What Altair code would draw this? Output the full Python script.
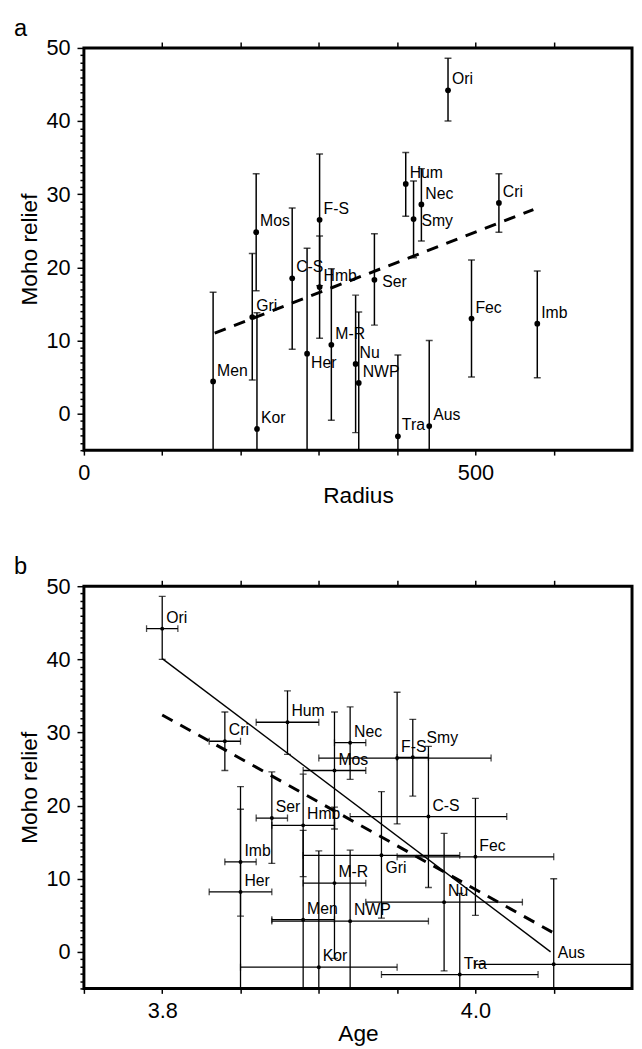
import altair as alt
import pandas as pd

FONT = "Liberation Sans"

# ---------------- data ----------------
names = ["Ori", "Hum", "Nec", "Smy", "Cri", "F-S", "Mos", "Gri", "Kor", "Men", "C-S",
         "Her", "Hmb", "M-R", "Ser", "Nu", "NWP", "Tra", "Aus", "Fec", "Imb"]
radius = [465, 411, 431, 421, 530, 301, 220, 215, 221, 165, 266,
          285, 301, 316, 371, 347, 351, 401, 441, 495, 579]
relief = [44.2, 31.4, 28.6, 26.6, 28.8, 26.5, 24.8, 13.2, -2.1, 4.4, 18.5,
          8.2, 17.3, 9.4, 18.3, 6.8, 4.2, -3.1, -1.7, 13.0, 12.3]
relief_lo = [40.0, 27.0, 23.6, 21.3, 24.8, 17.5, 16.8, 4.6, -18.0, -7.8, 8.8,
             -6.2, 10.3, -0.9, 12.1, -2.6, -5.5, -14.2, -13.4, 5.0, 4.9]
relief_hi = [48.6, 35.7, 33.5, 31.8, 32.8, 35.5, 32.8, 21.9, 13.8, 16.6, 28.1,
             22.6, 24.3, 19.8, 24.6, 16.2, 13.9, 8.0, 10.0, 21.0, 19.5]
age = [3.80, 3.88, 3.92, 3.96, 3.84, 3.95, 3.91, 3.94, 3.90, 3.89, 3.97,
       3.85, 3.89, 3.91, 3.87, 3.98, 3.92, 3.99, 4.05, 4.00, 3.85]
age_lo = [3.79, 3.86, 3.91, 3.95, 3.83, 3.90, 3.89, 3.89, 3.85, 3.87, 3.92,
          3.83, 3.87, 3.89, 3.86, 3.93, 3.87, 3.94, 4.00, 3.95, 3.84]
age_hi = [3.81, 3.90, 3.93, 3.97, 3.85, 4.01, 3.93, 3.99, 3.95, 3.91, 4.02,
          3.87, 3.91, 3.93, 3.88, 4.03, 3.97, 4.04, 4.10, 4.05, 3.86]

# fitted lines (end points)
fit_a_radius = [167, 574]
fit_a_relief = [11.0, 27.9]
fit_b_solid_age = [3.80, 4.048]
fit_b_solid_relief = [40.1, 0.0]
fit_b_dash_age = [3.80, 4.049]
fit_b_dash_relief = [32.4, 2.7]

# axis ticks / labels
radius_ticks = [0, 100, 200, 300, 400, 500, 600]
radius_labels = [0, 500]
age_ticks = [3.75, 3.8, 3.85, 3.9, 3.95, 4.0, 4.05]
age_labels = [3.8, 4.0]
relief_ticks = list(range(-5, 51))
relief_labels = [0, 10, 20, 30, 40, 50]

df = pd.DataFrame({"name": names, "radius": radius, "relief": relief,
                   "lo": relief_lo, "hi": relief_hi,
                   "age": age, "age_lo": age_lo, "age_hi": age_hi})

W, H = 556, 408
xs_a = alt.Scale(domain=[0, 700], nice=False, zero=False)
xs_b = alt.Scale(domain=[3.75, 4.10], nice=False, zero=False)
ys = alt.Scale(domain=[-5, 50], nice=False, zero=False)

TICK_FS = 22
TITLE_FS = 23
LABEL_FS = 16


def sel_expr(vals):
    return "indexof([" + ",".join(str(v) for v in vals) + "], datum.value) >= 0 ? datum.label : ''"


def y_axis():
    return alt.Axis(orient="left", values=relief_ticks, labelExpr=sel_expr(relief_labels),
                    tickSize={"condition": {"test": "datum.value % 10 === 0", "value": 7}, "value": 4},
                    tickWidth=1.5, tickColor="black", labelFontSize=TICK_FS, labelPadding=7,
                    labelColor="black", labelOverlap=False, labelFlush=False, labelBound=False,
                    title="Moho relief", titleFontSize=TITLE_FS, titleFontWeight="normal",
                    titleColor="black", titlePadding=5, domain=False, grid=False)


def x_axis(ticks, labels, title, fmt):
    return alt.Axis(orient="bottom", values=ticks, labelExpr=sel_expr(labels), format=fmt,
                    tickSize=5, tickWidth=1.5, tickColor="black", labelFontSize=TICK_FS,
                    labelPadding=8, labelColor="black", labelOverlap=False, labelFlush=False,
                    title=title, titleFontSize=TITLE_FS, titleFontWeight="normal", titleColor="black",
                    titlePadding=1, domain=False, grid=False)


def top_axis(ticks):
    return alt.Axis(orient="top", values=ticks, labels=False, tickSize=6, tickWidth=1.5,
                    tickColor="black", domain=False, grid=False, title=None)


def labels_layer(xfield, xscale, below, level, dy_below, dx_level, dy_level):
    base = alt.Chart(df)
    special = below + level
    enc = dict(x=alt.X(f"{xfield}:Q", scale=xscale, axis=None),
               y=alt.Y("relief:Q", scale=ys, axis=None), text="name:N")
    common = dict(align="left", baseline="middle", fontSize=LABEL_FS, font=FONT, color="black")
    default = base.transform_filter(
        ~alt.FieldOneOfPredicate(field="name", oneOf=special)
    ).mark_text(dx=4, dy=-11, **common).encode(**enc)
    lay = [default]
    if below:
        lay.append(base.transform_filter(alt.FieldOneOfPredicate(field="name", oneOf=below))
                   .mark_text(dx=4, dy=dy_below, **common).encode(**enc))
    if level:
        lay.append(base.transform_filter(alt.FieldOneOfPredicate(field="name", oneOf=level))
                   .mark_text(dx=dx_level, dy=dy_level, **common).encode(**enc))
    return lay


def letter(t):
    return alt.Chart(pd.DataFrame({"t": [t]})).mark_text(
        align="left", baseline="alphabetic", fontSize=24, font=FONT, color="black"
    ).encode(text="t:N", x=alt.value(-71), y=alt.value(-12))


# ---------------- panel a ----------------
rules_a = alt.Chart(df).mark_rule(color="black", strokeWidth=1.5, clip=True).encode(
    x=alt.X("radius:Q", scale=xs_a, axis=x_axis(radius_ticks, radius_labels, "Radius", "d")),
    y=alt.Y("lo:Q", scale=ys, axis=y_axis()), y2="hi:Q")
caps_a = [alt.Chart(df).mark_tick(orient="horizontal", size=7, thickness=1.5, color="black",
                                  clip=True).encode(
    x=alt.X("radius:Q", scale=xs_a, axis=None), y=alt.Y(f"{f}:Q", scale=ys, axis=None))
    for f in ["lo", "hi"]]
line_a = alt.Chart(pd.DataFrame({"radius": fit_a_radius, "relief": fit_a_relief})).mark_line(
    color="black", strokeWidth=3, strokeDash=[12, 9]).encode(
    x=alt.X("radius:Q", scale=xs_a, axis=None), y=alt.Y("relief:Q", scale=ys, axis=None))
dots_a = alt.Chart(df).mark_circle(size=34, color="black", opacity=1).encode(
    x=alt.X("radius:Q", scale=xs_a, axis=top_axis(radius_ticks[1:])),
    y=alt.Y("relief:Q", scale=ys, axis=None))

pa = alt.layer(rules_a, *caps_a, line_a, dots_a,
               *labels_layer("radius", xs_a, ["Her"], ["Smy", "Ser"], 10, 8, 2),
               letter("a")).resolve_axis(x="independent", y="independent").properties(width=W, height=H)

# ---------------- panel b ----------------
vr_b = alt.Chart(df).mark_rule(color="black", strokeWidth=1.3, clip=True).encode(
    x=alt.X("age:Q", scale=xs_b, axis=x_axis(age_ticks, age_labels, "Age", ".1f")),
    y=alt.Y("lo:Q", scale=ys, axis=y_axis()), y2="hi:Q")
hr_b = alt.Chart(df).mark_rule(color="black", strokeWidth=1.3, clip=True).encode(
    x=alt.X("age_lo:Q", scale=xs_b, axis=None), x2="age_hi:Q",
    y=alt.Y("relief:Q", scale=ys, axis=None))
vcaps_b = [alt.Chart(df).mark_tick(orient="horizontal", size=7, thickness=1.3, color="black",
                                   clip=True).encode(
    x=alt.X("age:Q", scale=xs_b, axis=None), y=alt.Y(f"{f}:Q", scale=ys, axis=None))
    for f in ["lo", "hi"]]
hcaps_b = [alt.Chart(df).mark_tick(orient="vertical", size=7, thickness=1.3, color="black",
                                   clip=True).encode(
    x=alt.X(f"{f}:Q", scale=xs_b, axis=None), y=alt.Y("relief:Q", scale=ys, axis=None))
    for f in ["age_lo", "age_hi"]]
solid_b = alt.Chart(pd.DataFrame({"age": fit_b_solid_age, "relief": fit_b_solid_relief})).mark_line(
    color="black", strokeWidth=1.4).encode(
    x=alt.X("age:Q", scale=xs_b, axis=None), y=alt.Y("relief:Q", scale=ys, axis=None))
dash_b = alt.Chart(pd.DataFrame({"age": fit_b_dash_age, "relief": fit_b_dash_relief})).mark_line(
    color="black", strokeWidth=3, strokeDash=[12, 9]).encode(
    x=alt.X("age:Q", scale=xs_b, axis=None), y=alt.Y("relief:Q", scale=ys, axis=None))
dots_b = alt.Chart(df).mark_circle(size=16, color="black", opacity=1).encode(
    x=alt.X("age:Q", scale=xs_b, axis=top_axis(age_ticks[1:])),
    y=alt.Y("relief:Q", scale=ys, axis=None))

pb = alt.layer(vr_b, hr_b, *vcaps_b, *hcaps_b, solid_b, dash_b, dots_b,
               *labels_layer("age", xs_b, ["Gri"], ["Smy"], 13, 14, -20),
               letter("b")).resolve_axis(x="independent", y="independent").properties(width=W, height=H)

chart = alt.vconcat(pa, pb, spacing=45).properties(
    padding={"left": 4, "top": 0, "right": 0, "bottom": 0}
).configure(font=FONT).configure_view(stroke="black", strokeWidth=3)

chart.save("out.html", embed_options={"renderer": "svg", "actions": False})
